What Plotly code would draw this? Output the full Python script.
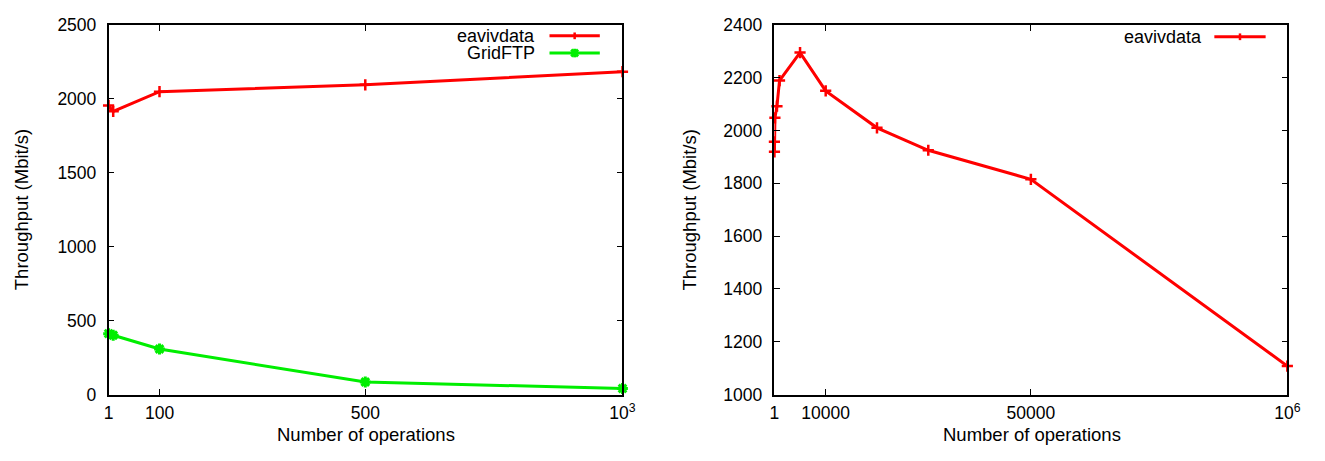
import plotly.graph_objects as go

# ---------------- data ----------------
left_ops = [1, 10, 100, 500, 1000]
left_eaviv = [1955, 1915, 2048, 2094, 2183]
left_gridftp = [412, 401, 308, 85, 41]

right_ops = [1, 10, 100, 500, 1000, 5000, 10000, 20000, 30000, 50000, 100000]
right_eaviv = [1957, 1919, 2048, 2092, 2189, 2295, 2150, 2010, 1925, 1815, 1108]

left_xticks = [1, 100, 500, 1000]
left_xticktext = ["1", "100", "500", "10<sup>3</sup>"]
left_yticks = [0, 500, 1000, 1500, 2000, 2500]
right_xticks = [1, 10000, 50000, 100000]
right_xticktext = ["1", "10000", "50000", "10<sup>6</sup>"]
right_yticks = [1000, 1200, 1400, 1600, 1800, 2000, 2200, 2400]

RED = "#ff0000"
GREEN = "#00ee00"
FONT = "Liberation Sans"

W, H = 1325, 461


def px(x):
    return x / W


def py(y):
    return 1 - y / H


fig = go.Figure()

fig.add_trace(go.Scatter(
    x=left_ops, y=left_eaviv, mode="lines+markers", name="eavivdata",
    line=dict(color=RED, width=3),
    marker=dict(symbol="cross-thin", size=8, line=dict(color=RED, width=2.5)),
    cliponaxis=False, xaxis="x", yaxis="y", showlegend=False))
fig.add_trace(go.Scatter(
    x=left_ops, y=left_gridftp, mode="lines+markers", name="GridFTP",
    line=dict(color=GREEN, width=3),
    marker=dict(symbol="asterisk", size=9, line=dict(color=GREEN, width=3)),
    cliponaxis=False, xaxis="x", yaxis="y", showlegend=False))
fig.add_trace(go.Scatter(
    x=right_ops, y=right_eaviv, mode="lines+markers", name="eavivdata",
    line=dict(color=RED, width=3),
    marker=dict(symbol="cross-thin", size=8, line=dict(color=RED, width=2.5)),
    cliponaxis=False, xaxis="x2", yaxis="y2", showlegend=False))

ydom = [py(402), py(15.5)]
axis_common = dict(
    showline=True, linecolor="black", linewidth=1.5, mirror="ticks",
    ticks="inside", ticklen=6, tickwidth=1, tickcolor="black",
    showgrid=False, zeroline=False,
    tickfont=dict(family=FONT, size=17.5, color="black"),
)

fig.update_layout(
    width=W, height=H,
    margin=dict(l=0, r=0, t=0, b=0),
    paper_bgcolor="white", plot_bgcolor="white",
    font=dict(family=FONT, size=18, color="black"),
    xaxis=dict(domain=[px(105), px(626)], range=[1, 1000],
               tickmode="array", tickvals=left_xticks, ticktext=left_xticktext,
               anchor="y", ticklabelstandoff=2, **axis_common),
    yaxis=dict(domain=ydom, range=[0, 2500], tickmode="array",
               tickvals=left_yticks, anchor="x", ticklabelstandoff=7,
               **axis_common),
    xaxis2=dict(domain=[px(780), px(1300)], range=[1, 100000],
                tickmode="array", tickvals=right_xticks, ticktext=right_xticktext,
                anchor="y2", ticklabelstandoff=2, **axis_common),
    yaxis2=dict(domain=ydom, range=[1000, 2400], tickmode="array",
                tickvals=right_yticks, anchor="x2", ticklabelstandoff=7,
                **axis_common),
    showlegend=False,
)

# axis titles
ann = []
for xc in (366, 1041):
    ann.append(dict(text="Number of operations", x=px(xc), y=py(444),
                    xref="paper", yref="paper", showarrow=False,
                    xanchor="center", yanchor="middle", borderpad=0,
                    font=dict(family=FONT, size=18.5)))
for xc in (17.5, 694):
    ann.append(dict(text="Throughput (Mbit/s)", x=px(xc), y=py(209),
                    xref="paper", yref="paper", showarrow=False, textangle=-90,
                    xanchor="center", yanchor="middle",
                    font=dict(family=FONT, size=18.5)))

# manual gnuplot-style legends (text left of sample)
legend_items = [
    ("eavivdata", RED, 538, 552, 603, 27, "plus"),
    ("GridFTP", GREEN, 538, 552, 603, 45, "star"),
    ("eavivdata", RED, 1214, 1226, 1278, 28, "plus"),
]
shapes = []
for text, col, tx, x0, x1, yy, kind in legend_items:
    ann.append(dict(text=text, x=px(tx), y=py(yy), xref="paper", yref="paper",
                    showarrow=False, xanchor="right", yanchor="middle",
                    borderpad=0, font=dict(family=FONT, size=18)))
    shapes.append(dict(type="line", xref="paper", yref="paper",
                       x0=px(x0), x1=px(x1), y0=py(yy), y1=py(yy),
                       line=dict(color=col, width=3)))
    xm = (x0 + x1) / 2
    if kind == "plus":
        shapes.append(dict(type="line", xref="paper", yref="paper",
                           x0=px(xm), x1=px(xm), y0=py(yy - 3.5), y1=py(yy + 3.5),
                           line=dict(color=col, width=2.5)))
    else:
        for dx, dy in ((3.5, 3.5), (3.5, -3.5)):
            shapes.append(dict(type="line", xref="paper", yref="paper",
                               x0=px(xm - dx), x1=px(xm + dx),
                               y0=py(yy - dy), y1=py(yy + dy),
                               line=dict(color=col, width=3)))
        shapes.append(dict(type="line", xref="paper", yref="paper",
                           x0=px(xm), x1=px(xm), y0=py(yy - 4.5), y1=py(yy + 4.5),
                           line=dict(color=col, width=3)))

fig.update_layout(annotations=ann, shapes=shapes)

fig.write_html("out.html")
